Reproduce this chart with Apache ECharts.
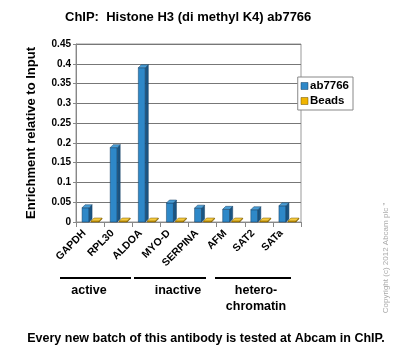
<!DOCTYPE html>
<html><head><meta charset="utf-8">
<script src="https://cdn.jsdelivr.net/npm/echarts@6/dist/echarts.min.js"></script>
<style>html,body{margin:0;padding:0;background:#fff}#c{width:400px;height:351px}</style>
</head><body><div id="c"></div>
<script>
var categories = ['GAPDH','RPL30','ALDOA','MYO-D','SERPINA','AFM','SAT2','SATa'];
var ab7766 = [0.036,0.188,0.39,0.048,0.035,0.032,0.031,0.041];
var beads = [0.002,0.002,0.002,0.002,0.002,0.002,0.002,0.002];
var yTicks = [0,0.05,0.1,0.15,0.2,0.25,0.3,0.35,0.4,0.45];
var groupNames = ['active','inactive','hetero-\nchromatin'];

var FONT = '"Liberation Sans", Arial, sans-serif';
function bar3d(off, w, front, side, top, edge){
  return function(params, api){
    var i = api.value(0), v = api.value(1);
    var p = api.coord([i, v]), p0 = api.coord([i, 0]);
    var x = p[0] + off, d = 3;
    var yT = Math.min(p[1], p0[1]-1);
    return {type:'group', children:[
      {type:'rect', shape:{x:x,y:yT,width:w,height:p0[1]-yT}, style:{fill:front, stroke:edge, lineWidth:0.5}},
      {type:'polygon', shape:{points:[[x+w,yT],[x+w+d,yT-d],[x+w+d,p0[1]-d],[x+w,p0[1]]]}, style:{fill:side, stroke:edge, lineWidth:0.5}},
      {type:'polygon', shape:{points:[[x,yT],[x+d,yT-d],[x+w+d,yT-d],[x+w,yT]]}, style:{fill:top, stroke:edge, lineWidth:0.5}}
    ]};
  };
}
var chart = echarts.init(document.getElementById('c'));
chart.setOption({
  animation:false,
  backgroundColor:'#fff',
  title:{text:'ChIP:  Histone H3 (di methyl K4) ab7766', left:60, top:6,
    textStyle:{fontFamily:FONT, fontWeight:'bold', fontSize:13, color:'#000'}},
  legend:{right:47, top:77, orient:'vertical', itemWidth:7, itemHeight:7, itemGap:3,
    borderColor:'#888', borderWidth:1, padding:[3,4,3,3], backgroundColor:'#fff',
    textStyle:{fontFamily:FONT, fontWeight:'bold', fontSize:11.5, color:'#000', padding:[0,0,0,-3]},
    data:[{name:'ab7766', icon:'rect', itemStyle:{color:'#2e88c8', borderColor:'#163f60', borderWidth:0.5}},
          {name:'Beads', icon:'rect', itemStyle:{color:'#f0b400', borderColor:'#6b5000', borderWidth:0.5}}]},
  grid:{left:76, right:99, top:44, bottom:129, show:true, borderColor:'#999', borderWidth:1},
  xAxis:{type:'category', data:categories,
    axisLine:{lineStyle:{color:'#888'}}, axisTick:{show:true, lineStyle:{color:'#888'}},
    axisLabel:{rotate:45, margin:4, interval:0, padding:[0,8,0,0], fontFamily:FONT, fontWeight:'bold', fontSize:10.5, color:'#000'}},
  yAxis:{type:'value', min:0, max:0.45, interval:0.05,
    name:'Enrichment relative to Input', nameLocation:'middle', nameGap:38,
    nameTextStyle:{fontFamily:FONT, fontWeight:'bold', fontSize:13, color:'#000'},
    axisLine:{show:true, lineStyle:{color:'#888'}}, axisTick:{show:true, length:3, lineStyle:{color:'#888'}},
    splitLine:{lineStyle:{color:'#777', width:1}},
    axisLabel:{margin:5, fontFamily:FONT, fontWeight:'bold', fontSize:10, color:'#000',
      formatter:function(v){ return yTicks.indexOf(v)>=0 ? String(v) : ''; }}},
  series:[
    {name:'ab7766', type:'custom', renderItem:bar3d(-8,7,'#2e88c8','#1a5583','#4a9ed6','#163f60'),
      encode:{x:0,y:1}, data:ab7766.map(function(v,i){return [i,v];}), z:3},
    {name:'Beads', type:'custom', renderItem:bar3d(1,8,'#f0b400','#a87d00','#f5c93c','#7a5b00'),
      encode:{x:0,y:1}, data:beads.map(function(v,i){return [i,v];}), z:2}
  ]
});
// group annotations (separator lines and labels below the axis)
var lines = [[60,131],[134,206],[215,291]];
var centers = [89,178,256];
var gfx = [];
lines.forEach(function(l, k){
  gfx.push({type:'line', shape:{x1:l[0],y1:278,x2:l[1],y2:278}, style:{stroke:'#000', lineWidth:2}});
  gfx.push({type:'text', x:centers[k], y:283, style:{text:groupNames[k], align:'center', verticalAlign:'top',
    font:'bold 12.5px '+FONT, fill:'#000', lineHeight:16}});
});
gfx.push({type:'text', x:206, y:339, style:{text:'Every new batch of this antibody is tested at Abcam in ChIP.',
  align:'center', verticalAlign:'middle', font:'bold 12.5px '+FONT, fill:'#000'}});
gfx.push({type:'text', x:386, y:258, rotation:Math.PI/2, style:{text:'Copyright (c) 2012 Abcam plc "',
  align:'center', verticalAlign:'middle', font:'8px '+FONT, fill:'#aaa'}});
chart.setOption({graphic:gfx});
</script></body></html>
